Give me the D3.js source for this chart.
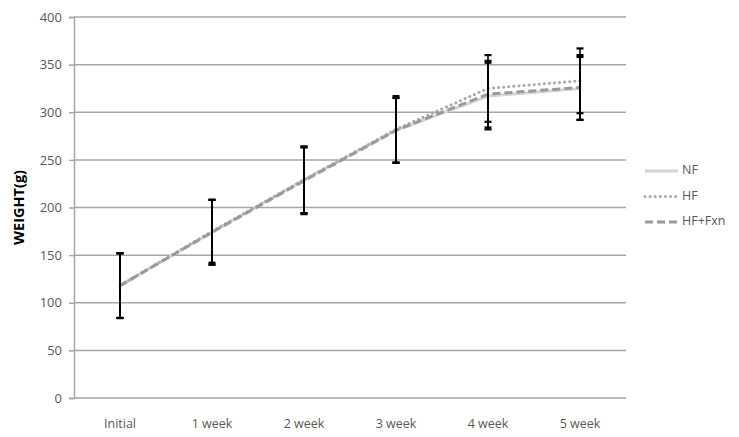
<!DOCTYPE html>
<meta charset="utf-8">
<script src="https://d3js.org/d3.v7.min.js"></script>
<style>
  body { margin: 0; background: #fff; }
  text { font-family: "Open Sans", "Noto Sans", sans-serif; }
</style>
<div id="chart"></div>
<script>
// categories and series
var weeks = ["Initial", "1 week", "2 week", "3 week", "4 week", "5 week"];
var nf     = [118, 174, 229, 281, 317, 325];
var hf     = [118, 175, 229, 282, 325, 333];
var hfFxn  = [118, 174, 228, 281, 319, 326];
var nfErr    = [34, 34, 35, 34, 35, 33];
var hfErr    = [34, 33, 35, 35, 35, 34];
var hfFxnErr = [34, 34, 35, 34, 35, 34];
var yTicks = [0, 50, 100, 150, 200, 250, 300, 350, 400];

var series = [
  {name: "NF", values: nf, err: nfErr, color: "#d4d4d4", dash: null, cap: "butt"},
  {name: "HF", values: hf, err: hfErr, color: "#a9a9a9", dash: "0.1,5", cap: "round"},
  {name: "HF+Fxn", values: hfFxn, err: hfFxnErr, color: "#9a9a9a", dash: "8,4", cap: "butt"}
];

var W = 739, H = 437;
var margin = {top: 17, right: 113, bottom: 39, left: 74},
    width = W - margin.left - margin.right,
    height = H - margin.top - margin.bottom;

var svg = d3.select("#chart").append("svg")
    .attr("width", W).attr("height", H)
  .append("g")
    .attr("transform", "translate(" + margin.left + "," + margin.top + ")");

var x = d3.scaleBand().domain(weeks).range([0, width]);
var y = d3.scaleLinear().domain([0, 400]).range([height, 0]);

// gridlines
svg.append("g")
  .selectAll("line")
  .data(yTicks)
  .enter().append("line")
    .attr("x1", 0).attr("x2", width)
    .attr("y1", function(d) { return y(d); })
    .attr("y2", function(d) { return y(d); })
    .attr("stroke", "#a6a6a6")
    .attr("stroke-width", 1.5);

// y axis
var yAxis = svg.append("g")
  .call(d3.axisLeft(y).tickValues(yTicks).tickSize(5).tickPadding(7));
yAxis.select(".domain").attr("stroke", "#a6a6a6").attr("stroke-width", 1.5);
yAxis.selectAll(".tick line").attr("stroke", "#a6a6a6").attr("stroke-width", 1.5);
yAxis.selectAll(".tick text")
  .attr("fill", "#595959")
  .style("font-size", "13px")
  .style("font-family", "'Open Sans', 'Noto Sans', sans-serif");

// x axis
var xAxis = svg.append("g")
  .attr("transform", "translate(0," + height + ")")
  .call(d3.axisBottom(x).tickSize(0).tickPadding(21));
xAxis.select(".domain").remove();
xAxis.selectAll(".tick text")
  .attr("fill", "#595959")
  .style("font-size", "12.5px")
  .style("font-family", "'Open Sans', 'Noto Sans', sans-serif");

// y label
svg.append("text")
  .attr("transform", "translate(" + (-54) + "," + (height / 2) + ") rotate(-90)")
  .attr("text-anchor", "middle")
  .attr("dominant-baseline", "middle")
  .style("font-size", "14.5px")
  .style("font-weight", "bold")
  .attr("fill", "#000")
  .text("WEIGHT(g)");

var cx = function(i) { return x(weeks[i]) + x.bandwidth() / 2; };

// lines
var line = d3.line()
  .x(function(d, i) { return cx(i); })
  .y(function(d) { return y(d); });

series.forEach(function(s) {
  svg.append("path")
    .datum(s.values)
    .attr("fill", "none")
    .attr("stroke", s.color)
    .attr("stroke-width", 3)
    .attr("stroke-linecap", s.cap)
    .attr("stroke-dasharray", s.dash)
    .attr("d", line);
});

// error bars
series.forEach(function(s) {
  var g = svg.append("g");
  s.values.forEach(function(v, i) {
    var x0 = cx(i), hi = y(v + s.err[i]), lo = y(v - s.err[i]);
    g.append("line")
      .attr("x1", x0).attr("x2", x0).attr("y1", hi).attr("y2", lo)
      .attr("stroke", "#000").attr("stroke-width", 1.6);
    [hi, lo].forEach(function(yy) {
      g.append("line")
        .attr("x1", x0 - 3.5).attr("x2", x0 + 3.5).attr("y1", yy).attr("y2", yy)
        .attr("stroke", "#000").attr("stroke-width", 2.2);
    });
  });
});

// legend
var legend = svg.append("g")
  .attr("transform", "translate(" + (width + 19) + "," + (y(400) + 154) + ")");
series.forEach(function(s, i) {
  var row = legend.append("g").attr("transform", "translate(0," + (i * 25.5) + ")");
  row.append("line")
    .attr("x1", 0).attr("x2", 33)
    .attr("stroke", s.color)
    .attr("stroke-width", 3)
    .attr("stroke-linecap", s.cap)
    .attr("stroke-dasharray", s.dash);
  row.append("text")
    .attr("x", 37).attr("y", 0)
    .attr("dominant-baseline", "middle")
    .attr("fill", "#595959")
    .style("font-size", "12.5px")
    .text(s.name);
});
</script>
